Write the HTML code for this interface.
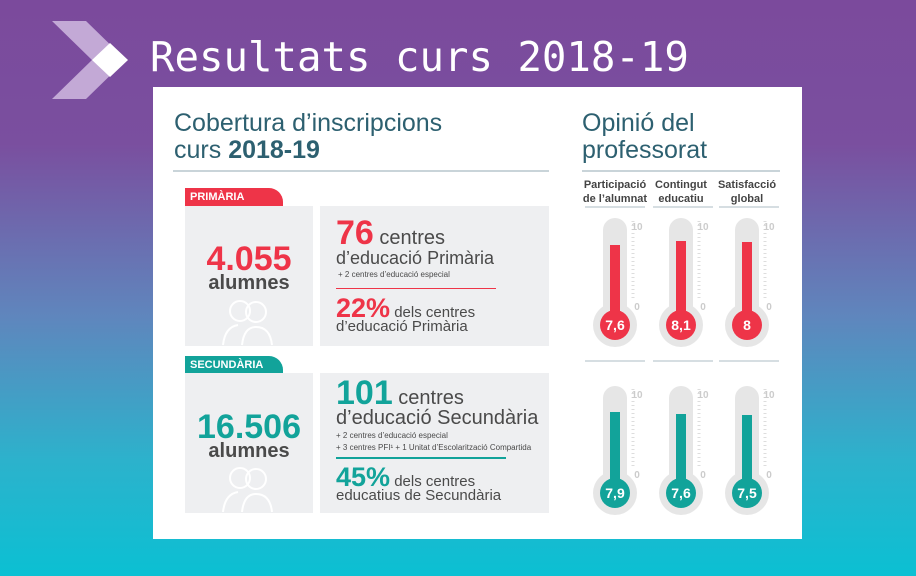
<!DOCTYPE html>
<html><head><meta charset="utf-8"><style>
*{margin:0;padding:0;box-sizing:border-box}
body{width:916px;height:576px;overflow:hidden;position:relative;font-family:"Liberation Sans",sans-serif;
background:linear-gradient(180deg,#7b4a9c 0%,#7a4f9f 25%,#5f86bd 55%,#2cb2cc 80%,#0bc0d3 100%);}
.a{position:absolute;white-space:nowrap}
.panel{position:absolute;left:153px;top:87px;width:649px;height:452px;background:#fff}
.h{color:#2d6070;font-size:25px;line-height:27px}
.box{position:absolute;background:#eeeff1}
.red{color:#ee3448}.teal{color:#12a39a}.g{color:#4a4a4a}
.tab{position:absolute;color:#fff;font-weight:bold;font-size:11px;padding:3px 0 0 5px;border-top-right-radius:14px}
</style></head><body>
<svg class="a" style="left:0;top:0" width="140" height="110">
<polygon points="52,21,86,21,126,60,86,99,52,99,92,60" fill="#c3a9d6"/>
<polygon points="92,60,110,43,128,60,110,77" fill="#fff"/>
</svg>
<div class="a" style="left:150px;top:33px;font-family:'DejaVu Sans Mono',monospace;font-size:40.7px;color:#fff">Resultats curs 2018-19</div>
<div class="panel"></div>
<div class="a h" style="left:174px;top:110px">Cobertura d’inscripcions<br>curs <b>2018-19</b></div>
<div class="a" style="left:173px;top:170px;width:376px;height:2px;background:#c9d4d9"></div>
<div class="a h" style="left:582px;top:110px">Opinió del<br>professorat</div>
<div class="a" style="left:582px;top:170px;width:198px;height:2px;background:#c9d4d9"></div>

<div class="tab" style="left:185px;top:188px;width:98px;height:18px;background:#ee3448">PRIMÀRIA</div>
<div class="box" style="left:185px;top:206px;width:128px;height:140px"></div>
<div class="box" style="left:320px;top:206px;width:229px;height:140px"></div>
<div class="a red" style="left:185px;width:128px;text-align:center;top:240px;font-size:34px;font-weight:bold">4.055</div>
<div class="a g" style="left:185px;width:128px;text-align:center;top:272px;font-size:20px;font-weight:bold">alumnes</div>
<svg class="a" style="left:220px;top:297px" width="60" height="50" fill="none" stroke="#fff" stroke-width="2"><circle cx="20" cy="14" r="10"/><circle cx="36" cy="15" r="10"/><path d="M3 48 Q5 30 18 28 M22 48 Q24 30 36 30 Q50 30 52 48"/></svg>
<div class="a g" style="left:336px;top:214px;font-size:20px"><b class="red" style="font-size:34px">76</b> centres</div>
<div class="a g" style="left:336px;top:248px;font-size:18px">d’educació Primària</div>
<div class="a g" style="left:338px;top:270px;font-size:8px">+ 2 centres d’educació especial</div>
<div class="a" style="left:336px;top:288px;width:160px;height:1px;background:#ee3448"></div>
<div class="a g" style="left:336px;top:293px;font-size:15px"><b class="red" style="font-size:27px">22%</b> dels centres</div>
<div class="a g" style="left:336px;top:318px;font-size:15px">d’educació Primària</div>

<div class="tab" style="left:185px;top:356px;width:98px;height:17px;background:#12a39a">SECUNDÀRIA</div>
<div class="box" style="left:185px;top:373px;width:128px;height:140px"></div>
<div class="box" style="left:320px;top:373px;width:229px;height:140px"></div>
<div class="a teal" style="left:185px;width:128px;text-align:center;top:408px;font-size:34px;font-weight:bold">16.506</div>
<div class="a g" style="left:185px;width:128px;text-align:center;top:440px;font-size:20px;font-weight:bold">alumnes</div>
<svg class="a" style="left:220px;top:464px" width="60" height="50" fill="none" stroke="#fff" stroke-width="2"><circle cx="20" cy="14" r="10"/><circle cx="36" cy="15" r="10"/><path d="M3 48 Q5 30 18 28 M22 48 Q24 30 36 30 Q50 30 52 48"/></svg>
<div class="a g" style="left:336px;top:374px;font-size:20px"><b class="teal" style="font-size:34px">101</b> centres</div>
<div class="a g" style="left:336px;top:407px;font-size:20px">d’educació Secundària</div>
<div class="a g" style="left:336px;top:431px;font-size:8px">+ 2 centres d’educació especial</div>
<div class="a g" style="left:336px;top:443px;font-size:8px">+ 3 centres PFI¹ + 1 Unitat d’Escolarització Compartida</div>
<div class="a" style="left:336px;top:457px;width:170px;height:2px;background:#12a39a"></div>
<div class="a g" style="left:336px;top:462px;font-size:15px"><b class="teal" style="font-size:27px">45%</b> dels centres</div>
<div class="a g" style="left:336px;top:487px;font-size:15px">educatius de Secundària</div>

<svg class="a" style="left:560px;top:170px" width="242" height="360" font-family="Liberation Sans" >
<g font-size="11" font-weight="bold" fill="#444" text-anchor="middle">
<text x="55" y="18">Participació</text><text x="55" y="32">de l’alumnat</text>
<text x="121" y="18">Contingut</text><text x="121" y="32">educatiu</text>
<text x="187" y="18">Satisfacció</text><text x="187" y="32">global</text>
</g>
<g stroke="#c9d4d9" stroke-width="1.5">
<line x1="25" y1="37" x2="85" y2="37"/><line x1="93" y1="37" x2="153" y2="37"/><line x1="159" y1="37" x2="219" y2="37"/>
<line x1="25" y1="191" x2="85" y2="191"/><line x1="93" y1="191" x2="153" y2="191"/><line x1="159" y1="191" x2="219" y2="191"/>
</g>
<defs>
<g id="t">
<rect x="-12" y="0" width="24" height="100" rx="12" fill="#e6e6e6"/>
<circle cx="0" cy="107" r="22" fill="#e6e6e6"/>
<line x1="18" y1="3" x2="18" y2="82" stroke="#ddd" stroke-width="3" stroke-dasharray="1 3"/>
<text x="22" y="12" font-size="10" fill="#ccc">10</text>
<text x="22" y="92" font-size="10" fill="#ccc">0</text>
</g>
</defs>
<g font-size="14" font-weight="bold" fill="#fff" text-anchor="middle">
<use href="#t" x="55" y="48"/><use href="#t" x="121" y="48"/><use href="#t" x="187" y="48"/>
<rect x="50" y="75" width="10" height="70" fill="#ee3448"/><circle cx="55" cy="155" r="15" fill="#ee3448"/><text x="55" y="160">7,6</text>
<rect x="116" y="71" width="10" height="74" fill="#ee3448"/><circle cx="121" cy="155" r="15" fill="#ee3448"/><text x="121" y="160">8,1</text>
<rect x="182" y="72" width="10" height="73" fill="#ee3448"/><circle cx="187" cy="155" r="15" fill="#ee3448"/><text x="187" y="160">8</text>
<use href="#t" x="55" y="216"/><use href="#t" x="121" y="216"/><use href="#t" x="187" y="216"/>
<rect x="50" y="242" width="10" height="70" fill="#12a39a"/><circle cx="55" cy="323" r="15" fill="#12a39a"/><text x="55" y="328">7,9</text>
<rect x="116" y="244" width="10" height="68" fill="#12a39a"/><circle cx="121" cy="323" r="15" fill="#12a39a"/><text x="121" y="328">7,6</text>
<rect x="182" y="245" width="10" height="67" fill="#12a39a"/><circle cx="187" cy="323" r="15" fill="#12a39a"/><text x="187" y="328">7,5</text>
</g>
</svg>
</body></html>
